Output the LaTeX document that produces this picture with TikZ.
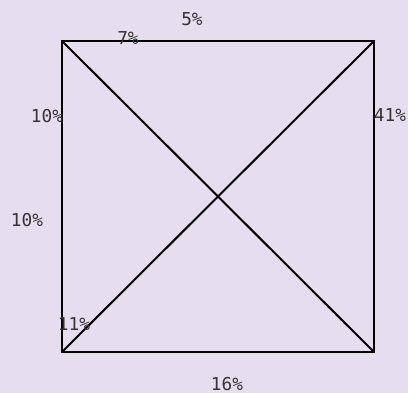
\documentclass[tikz,border=0pt]{standalone}
\usepackage{fontspec}
\setmonofont{DejaVu Sans Mono}
\usetikzlibrary{positioning}
\definecolor{bgpurple}{HTML}{E6DEEF}
\definecolor{labelgray}{HTML}{333333}
\tikzset{
  edge/.style={
    draw=black,
    line width=1.5pt,
  },
  pct/.style={
    font=\ttfamily\fontsize{13.3}{15}\selectfont,
    text=labelgray,
    inner sep=0pt,
    anchor=center,
  }
}

\begin{document}
\begin{tikzpicture}[x=0.75pt,y=-0.75pt]

% --- Background ---
\fill[bgpurple] (0,0) rectangle (408,393);
\useasboundingbox (0,0) rectangle (408,393);

% --- Corners of the square ---
\coordinate (tl) at (62,41);
\coordinate (tr) at (374,41);
\coordinate (br) at (374,352);
\coordinate (bl) at (62,352);

% --- Square and diagonals ---
\draw[edge] (tl) -- (tr) -- (br) -- (bl) -- cycle;
\draw[edge] (tl) -- (br);
\draw[edge] (bl) -- (tr);

% --- Percent labels ---
\node[pct] (top) at (192,19) {5\%};
\node[pct] (topleft) at (128,38) {7\%};
\node[pct] (leftup) at (47,116) {10\%};
\node[pct] (right) at (390,115) {41\%};
\node[pct] (leftdown) at (27,220) {10\%};
\node[pct] (corner) at (74,324) {11\%};
\node[pct] (bottom) at (227,384) {16\%};

\end{tikzpicture}
\end{document}
